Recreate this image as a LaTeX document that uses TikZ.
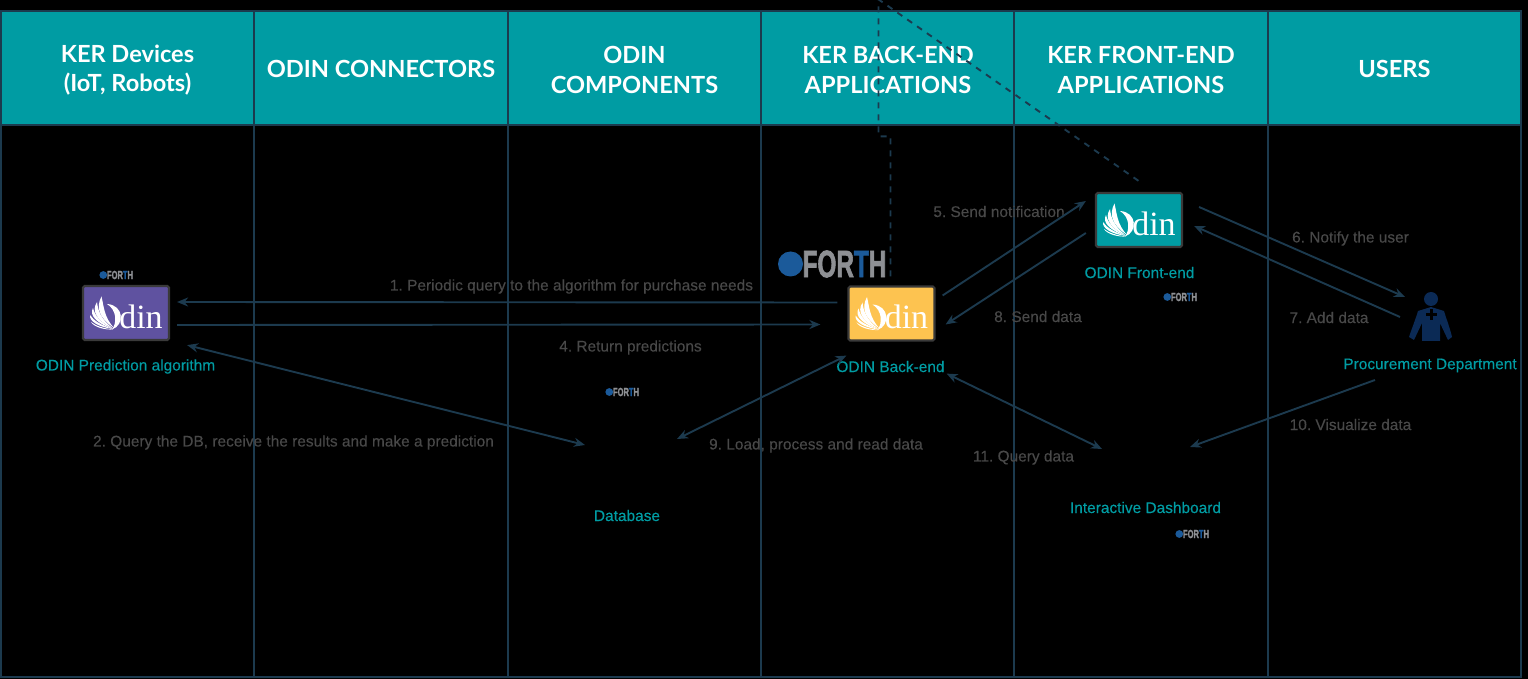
\documentclass[tikz,border=0pt]{standalone}
\usepackage{fontspec}
\setmainfont{Liberation Sans}
\newfontfamily\headfont{Lato}
\newfontfamily\serifmark{Liberation Serif}
\newfontfamily\labelfont[FakeBold=0.25]{Liberation Sans}
\newfontfamily\forthfont[FakeBold=2.2]{Liberation Sans Bold}
\usetikzlibrary{arrows.meta}

\definecolor{tealodin}{HTML}{009CA3}
\definecolor{gridline}{HTML}{1C3A4E}
\definecolor{labelgrey}{HTML}{484848}
\definecolor{odinpurple}{HTML}{5F52A0}
\definecolor{odinorange}{HTML}{FDC350}
\definecolor{odinedge}{HTML}{3A3A3A}
\definecolor{forthblue}{HTML}{1B5A9A}
\definecolor{forthgrey}{HTML}{8E9094}
\definecolor{personblue}{HTML}{0B2A55}

\tikzset{
	headcell/.style={rectangle, draw=gridline, line width=1pt, fill=tealodin, minimum width=126.75pt, minimum height=57pt, inner sep=0pt},
	headtext/.style={inner sep=0pt, align=center, text=white, font=\headfont\bfseries\fontsize{11.8}{14.6}\selectfont},
	bodycell/.style={rectangle, draw=gridline, line width=1pt, fill=black, minimum width=126.75pt, minimum height=276pt, inner sep=0pt},
	odinbox/.style={rectangle, rounded corners=0.8pt, draw=odinedge, line width=1.1pt, minimum width=43pt, minimum height=27pt, inner sep=0pt},
	steplabel/.style={text=labelgrey, inner sep=0pt, font=\labelfont\frenchspacing\fontsize{7.72}{9}\selectfont},
	namelabel/.style={text=tealodin, inner sep=0pt, font=\labelfont\fontsize{7.72}{9}\selectfont},
	flow/.style={draw=gridline, line width=0.95pt, -{Stealth[length=5.5pt,width=4.5pt]}},
	flowboth/.style={draw=gridline, line width=0.95pt, {Stealth[length=5.5pt,width=4.5pt]}-{Stealth[length=5.5pt,width=4.5pt]}},
	flowdash/.style={draw=gridline, line width=0.95pt, dashed},
	odinmark/.pic={
		\node[text=white, inner sep=0pt, anchor=base, font=\serifmark\fontsize{17}{17}\selectfont] (-din) at (15,15.5) {din};
		\fill[white] (-24.5,-16.5) .. controls (-30,-6) and (-28,4) .. (-12,15) .. controls (-22,4) and (-22,-6) .. cycle;
		\fill[white] (-29,-11) .. controls (-35,-2) and (-29,8) .. (-13,15.5) .. controls (-25,6) and (-28,-2) .. cycle;
		\fill[white] (-33,-5) .. controls (-37,2) and (-30,10) .. (-13,16) .. controls (-26,9) and (-31,3) .. cycle;
		\fill[white] (-36,2) .. controls (-37,8) and (-28,14) .. (-13,16) .. controls (-25,12) and (-32,8) .. cycle;
		\fill[white] (-35,9) .. controls (-32,14) and (-22,17) .. (-13,16.5) .. controls (-22,15.5) and (-30,13) .. cycle;
		\fill[white] (-19,-9) .. controls (-2,-8) and (-1,12) .. (-14,16.5) .. controls (-9,10) and (-9,-3) .. cycle;
	},
	forthmark/.pic={
		\fill[forthblue] (-41,0) circle (12.5);
		\node[inner sep=0pt, transform shape, xscale=0.64, font=\forthfont\fontsize{19}{19}\selectfont] (-name) at (13,0) {\textcolor{forthgrey}{FOR}\textcolor{forthblue}{T}\textcolor{forthgrey}{H}};
	},
}

\begin{document}
\begin{tikzpicture}[x=0.5pt, y=-0.5pt]
	\useasboundingbox (0,0) rectangle (1528,679);
	\fill[black] (0,0) rectangle (1528,679);

	% table
	\node[bodycell] (bodyA) at (127.5,401) {};
	\node[bodycell] (bodyB) at (381,401) {};
	\node[bodycell] (bodyC) at (634.5,401) {};
	\node[bodycell] (bodyD) at (888,401) {};
	\node[bodycell] (bodyE) at (1141,401) {};
	\node[bodycell] (bodyF) at (1394.5,401) {};

	\node[headcell] (headA) at (127.5,68) {};
	\node[headcell] (headB) at (381,68) {};
	\node[headcell] (headC) at (634.5,68) {};
	\node[headcell] (headD) at (888,68) {};
	\node[headcell] (headE) at (1141,68) {};
	\node[headcell] (headF) at (1394.5,68) {};

	\node[headtext] (titleA) at (127.5,70) {KER Devices\\(IoT, Robots)};
	\node[headtext] (titleB) at (381,69) {ODIN CONNECTORS};
	\node[headtext] (titleC) at (634.5,70) {ODIN\\COMPONENTS};
	\node[headtext] (titleD) at (888,70) {KER BACK-END\\APPLICATIONS};
	\node[headtext] (titleE) at (1141,70) {KER FRONT-END\\APPLICATIONS};
	\node[headtext] (titleF) at (1394.5,69) {USERS};

	% icons
	\node[odinbox, fill=odinpurple] (predict) at (126,313) {};
	\pic (predictmark) at (predict) {odinmark};
	\node[odinbox, fill=odinorange] (back) at (891.5,313.5) {};
	\pic (backmark) at (back) {odinmark};
	\node[odinbox, fill=tealodin] (front) at (1139,220) {};
	\pic (frontmark) at (front) {odinmark};

	\pic (forthbig) at (831.5,264) {forthmark};
	\pic[scale=0.31] (forthA) at (116,275) {forthmark};
	\pic[scale=0.31] (forthB) at (622,392) {forthmark};
	\pic[scale=0.31] (forthC) at (1180,297) {forthmark};
	\pic[scale=0.31] (forthD) at (1192,534) {forthmark};

	% person
	\node[circle, fill=personblue, minimum size=7pt, inner sep=0pt] (head) at (1431,299) {};
	\fill[personblue] (1431,307) -- (1418,311) .. controls (1416,318) and (1412,328) .. (1409,337) -- (1414,340) -- (1422,323) -- (1422,341) -- (1440,341) -- (1440,323) -- (1448,340) -- (1452,337) .. controls (1450,328) and (1446,318) .. (1444,311) -- cycle;
	\fill[black] (1430,309) rectangle (1432.5,320);
	\fill[black] (1426,313.5) rectangle (1436.5,316);
	\coordinate (person) at (1431,320);

	% invisible icons
	\coordinate (database) at (631,442);
	\coordinate (dashboard) at (1146,448);

	% names
	\node[namelabel] (namepredict) at (125.5,366.5) {ODIN Prediction algorithm};
	\node[namelabel] (nameback) at (890.5,366.5) {ODIN Back-end};
	\node[namelabel] (namefront) at (1139.5,272.5) {ODIN Front-end};
	\node[namelabel] (nameperson) at (1430,365.5) {Procurement Department};
	\node[namelabel] (namedb) at (627,515.5) {Database};
	\node[namelabel] (namedash) at (1145.5,507.5) {Interactive Dashboard};

	% steps
	\node[steplabel] (stepA) at (571.5,286.5) {1. Periodic query to the algorithm for purchase needs};
	\node[steplabel] (stepB) at (293.5,442.5) {2. Query the DB, receive the results and make a prediction};
	\node[steplabel] (stepD) at (630.5,347.5) {4. Return predictions};
	\node[steplabel] (stepE) at (999,211.5) {5. Send notification};
	\node[steplabel] (stepF) at (1350.5,238.5) {6. Notify the user};
	\node[steplabel] (stepG) at (1329,317.5) {7. Add data};
	\node[steplabel] (stepH) at (1038,316.5) {8. Send data};
	\node[steplabel] (stepI) at (816,445.5) {9. Load, process and read data};
	\node[steplabel] (stepJ) at (1350.5,424.5) {10. Visualize data};
	\node[steplabel] (stepK) at (1023.5,457.5) {11. Query data};

	% connectors
	\draw[flow] ([shift={(-10,-11)}]back.west) -- ([shift={(7,-11)}]predict.east);
	\draw[flow] ([shift={(7,12)}]predict.east) -- ([shift={(-27,11)}]back.west);
	\draw[flowboth] ([shift={(17,4)}]predict.south east) -- ([shift={(-46,3)}]database);
	\draw[flowboth] ([shift={(46,-3)}]database) -- ([shift={(-1,14)}]back.south west);
	\draw[flowboth] ([shift={(11,32)}]back.south east) -- ([shift={(-44,1)}]dashboard);
	\draw[flow] ([shift={(-56,60)}]person) -- ([shift={(44,-1)}]dashboard);
	\draw[flow] ([shift={(7,-18)}]back.east) -- ([shift={(-9,-19)}]front.west);
	\draw[flow] ([shift={(-9,13)}]front.west) -- ([shift={(10,11)}]back.east);
	\draw[flow] ([shift={(16,-13)}]front.east) -- ([shift={(-26,-23)}]person);
	\draw[flow] ([shift={(-31,-3)}]person) -- ([shift={(11,6)}]front.east);
	\draw[flowdash] ([shift={(-1,-9)}]back.north) -- ++(0,-140) -- ++(-12,0) -- ++(0,-137) -- ([shift={(1,-10)}]front.north);
\end{tikzpicture}
\end{document}
